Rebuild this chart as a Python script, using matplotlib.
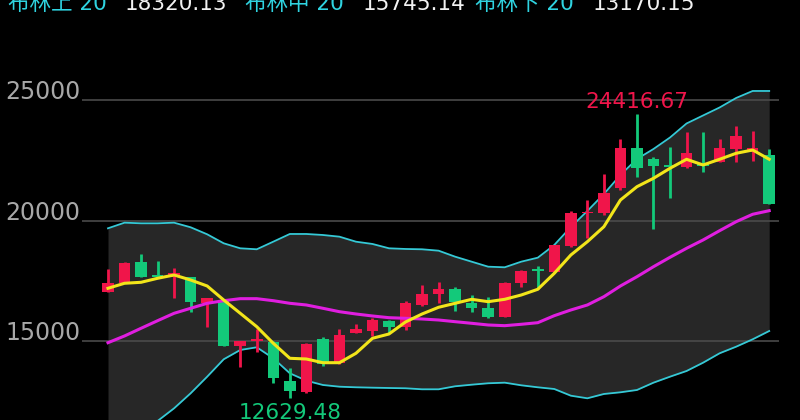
import matplotlib
matplotlib.use("Agg")
import matplotlib.pyplot as plt
import numpy as np

# OHLC (red = close above open, green = close below open)
opens = [17022, 17421, 18269, 17741, 17670, 17637, 16590, 16673, 14804, 14998,
         14970, 13349, 12892, 15082, 14097, 15344, 15414, 15830, 15593, 16495,
         16952, 17147, 16590, 16358, 15996, 17409, 17949, 17866, 18946, 20305,
         20305, 21344, 23030, 22561, 22312, 22216, 22382, 22449, 22964, 22864, 22715]
closes = [17396, 18227, 17670, 17670, 17812, 16599, 16773, 14804, 14986, 15070,
          13449, 12921, 14874, 14031, 15248, 15510, 15871, 15568, 16590, 16939,
          17147, 16632, 16358, 15984, 17421, 17920, 17907, 18975, 20305, 20371,
          21161, 23018, 22199, 22270, 22229, 22823, 22270, 23006, 23517, 23006, 20691]
highs = [17978, 18269, 18614, 18323, 18020, 17650, 16773, 16690, 15000, 15485,
         14990, 13865, 14900, 15153, 15485, 15705, 15942, 15860, 16673, 17326,
         17463, 17243, 16898, 16815, 17440, 17940, 18115, 19000, 20380, 20857,
         21925, 23392, 24416.67, 22657, 23059, 23695, 23695, 23380, 23932, 23737, 22964]
lows = [17022, 17421, 17658, 17616, 16773, 16216, 15593, 14800, 13931, 14555,
        13266, 12629.48, 12850, 13973, 14060, 15330, 15207, 15319, 15456, 16470,
        16590, 16258, 16216, 15970, 15980, 17255, 17172, 17840, 18920, 19266,
        20234, 21273, 21825, 19652, 20928, 22175, 22033, 22430, 22449, 22490, 20680]

ma5 = [17189, 17397, 17438, 17604, 17741, 17533, 17284, 16702, 16150, 15593,
       14903, 14280, 14251, 14097, 14097, 14488, 15111, 15290, 15789, 16121,
       16399, 16565, 16731, 16632, 16731, 16910, 17147, 17812, 18572, 19125,
       19748, 20857, 21410, 21759, 22175, 22549, 22312, 22549, 22798, 22935, 22549]
boll_up = [19681, 19914, 19889, 19889, 19914, 19723, 19432, 19058, 18850, 18809,
           19125, 19445, 19445, 19403, 19333, 19125, 19030, 18850, 18822, 18809,
           18751, 18502, 18294, 18086, 18061, 18294, 18460, 18988, 19736, 20401,
           21107, 21896, 22561, 22976, 23454, 24036, 24369, 24701, 25096, 25387, 25387]
boll_mid = [14928, 15207, 15527, 15842, 16150, 16358, 16565, 16673, 16757, 16757,
            16673, 16565, 16495, 16358, 16216, 16121, 16038, 15967, 15942, 15913,
            15871, 15801, 15734, 15664, 15635, 15693, 15759, 16051, 16287, 16495,
            16840, 17284, 17670, 18086, 18477, 18850, 19196, 19582, 19956, 20264, 20413]
boll_dn = [10262, 10760, 11217, 11675, 12203, 12826, 13516, 14239, 14625, 14737,
           14280, 13657, 13350, 13171, 13100, 13075, 13059, 13046, 13034, 12992,
           12992, 13117, 13183, 13242, 13267, 13158, 13075, 13004, 12726, 12618,
           12797, 12867, 12963, 13267, 13516, 13752, 14097, 14488, 14762, 15069, 15414]

y_ticks = [15000, 20000, 25000]
header = [("布林上 20", "#2fd3e0"), ("18320.13", "#f2f2f2"),
          ("布林中 20", "#2fd3e0"), ("15745.14", "#f2f2f2"),
          ("布林下 20", "#2fd3e0"), ("13170.15", "#f2f2f2")]
header_x = [8, 125, 245, 363, 475, 593]

RED = "#f0154a"
GREEN = "#13c97a"
fam = ["DejaVu Sans", "Noto Sans CJK SC"]

fig = plt.figure(figsize=(8, 4.2), dpi=100, facecolor="black")
ax = fig.add_axes([0, 0, 1, 1])
ax.set_facecolor("black")
ax.set_xlim(-6.533, 41.863)
ax.set_ylim(11716, 29167)
ax.axis("off")

x = np.arange(len(opens))
ax.fill_between(x, boll_dn, boll_up, color="#272727", lw=0, zorder=1)
ax.hlines(y_ticks, -1.57, 40.6, color="#4a4a4a", lw=1.2, zorder=2)
for v in y_ticks:
    ax.text(-1.65, v + 40, str(v), color="#a8a8a8", fontsize=17,
            ha="right", va="baseline", family=fam)

ax.plot(x, boll_up, color="#35c9d6", lw=1.3, zorder=3)
ax.plot(x, boll_dn, color="#35c9d6", lw=1.3, zorder=3)

for i in range(len(opens)):
    o, c = opens[i], closes[i]
    col = RED if c >= o else GREEN
    ax.vlines(i, lows[i], highs[i], color=col, lw=2, zorder=4)
    h = max(abs(c - o), 70)
    ax.bar(i, h, bottom=min(o, c), width=0.7, color=col, lw=0, zorder=4)

ax.plot(x, boll_mid, color="#e01ee0", lw=2.2, zorder=5)
ax.plot(x, ma5, color="#f2e51a", lw=2.2, zorder=6)

imax = int(np.argmax(highs))
imin = int(np.argmin(lows))
ax.text(imax, 24700, f"{highs[imax]:.2f}", color=RED, fontsize=15.5,
        ha="center", va="baseline", family=fam, zorder=7)
ax.text(imin, 11737, f"{lows[imin]:.2f}", color=GREEN, fontsize=15.5,
        ha="center", va="baseline", family=fam, zorder=7)

for (s, col), px in zip(header, header_x):
    fig.text(px / 800, 1 - 10 / 420, s, color=col, fontsize=15.5,
             ha="left", va="baseline", family=fam)

fig.savefig("out.png", dpi=100, facecolor="black")
